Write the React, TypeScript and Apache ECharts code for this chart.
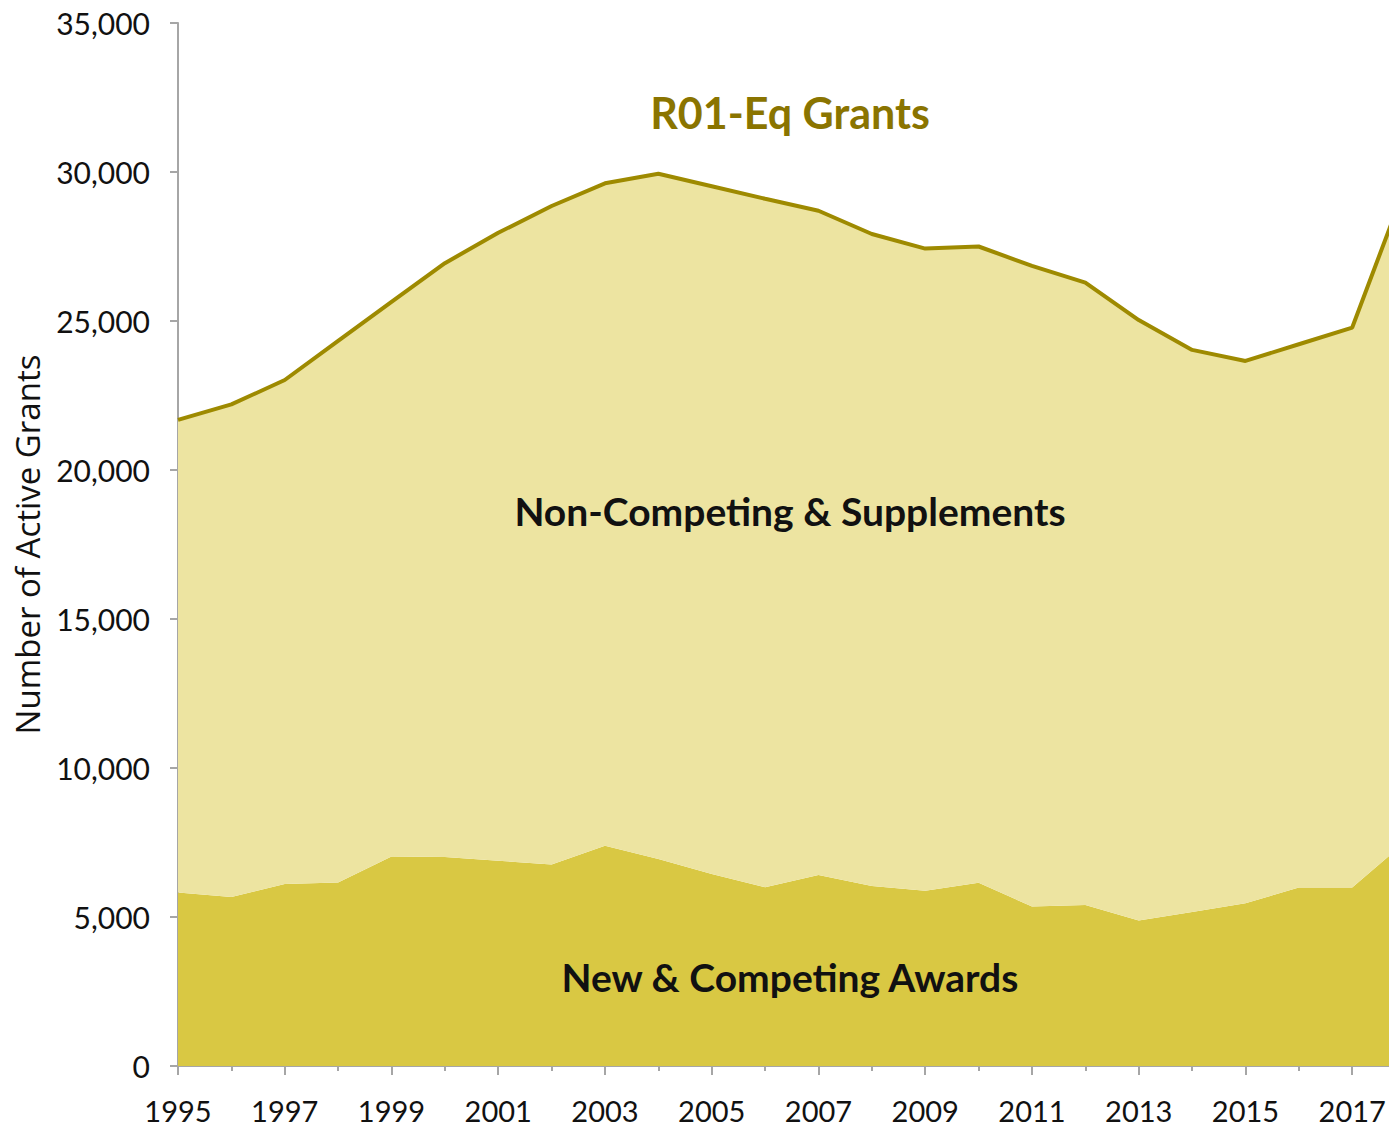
import React, { useEffect, useRef } from "react";
import * as echarts from "echarts";

const years = ["1995","1996","1997","1998","1999","2000","2001","2002","2003","2004","2005","2006","2007","2008","2009","2010","2011","2012","2013","2014","2015","2016","2017","2018"];
const totalGrants = [21680, 22200, 23020, 24330, 25640, 26940, 27960, 28860, 29620, 29940, 29520, 29100, 28700, 27920, 27430, 27500, 26850, 26290, 25030, 24030, 23660, 24220, 24780, 29540];
const newCompeting = [5820, 5670, 6110, 6160, 7030, 7010, 6890, 6760, 7390, 6950, 6440, 6000, 6410, 6040, 5880, 6150, 5350, 5400, 4880, 5170, 5460, 5990, 5990, 7530];
const nonCompeting = totalGrants.map((t, i) => t - newCompeting[i]);

export default function App() {
  const ref = useRef<HTMLDivElement>(null);
  useEffect(() => {
    if (!ref.current) return;
    const chart = echarts.init(ref.current, null, { renderer: "svg" });
    const axisColor = "#A6A6A6";
    chart.setOption({
      animation: false,
      backgroundColor: "#FFFFFF",
      grid: { left: 178, top: 23, bottom: 61, right: 14.4, containLabel: false, outerBoundsMode: "none" },
      xAxis: [
        {
          type: "category",
          data: years,
          boundaryGap: false,
          position: "bottom",
          axisLine: { show: true, lineStyle: { color: axisColor, width: 2 } },
          axisTick: { show: true, interval: 1, length: 9, lineStyle: { color: axisColor, width: 2 } },
          axisLabel: {
            interval: 1,
            margin: 29,
            fontFamily: "Lato",
            fontSize: 29,
            lineHeight: 30,
            color: "#111111",
          },
          splitLine: { show: false },
        },
        {
          type: "category",
          data: years,
          boundaryGap: false,
          position: "bottom",
          offset: 0,
          axisLine: { show: false },
          axisTick: { show: true, interval: 0, length: 5, lineStyle: { color: axisColor, width: 2 } },
          axisLabel: { show: false },
          splitLine: { show: false },
        },
      ],
      yAxis: {
        type: "value",
        min: 0,
        max: 35000,
        interval: 5000,
        name: "Number of Active Grants",
        nameLocation: "middle",
        nameRotate: 90,
        nameGap: 134,
        nameTextStyle: { fontFamily: "Open Sans", fontSize: 33, color: "#111111" },
        axisLine: { show: true, lineStyle: { color: axisColor, width: 2 } },
        axisTick: { show: true, inside: false, length: 8, lineStyle: { color: axisColor, width: 2 } },
        axisLabel: {
          margin: 28,
          fontFamily: "Lato",
          fontSize: 30,
          color: "#111111",
          formatter: (v: number) => v.toLocaleString("en-US"),
        },
        splitLine: { show: false },
      },
      series: [
        {
          name: "New & Competing Awards",
          type: "line",
          stack: "total",
          data: newCompeting,
          symbol: "none",
          lineStyle: { width: 0 },
          areaStyle: { color: "#D9C843", opacity: 1 },
          z: 2,
        },
        {
          name: "Non-Competing & Supplements",
          type: "line",
          stack: "total",
          data: nonCompeting,
          symbol: "none",
          lineStyle: { width: 4, color: "#9E8A00" },
          itemStyle: { color: "#9E8A00" },
          areaStyle: { color: "#EDE4A1", opacity: 1 },
          z: 3,
        },
      ],
      graphic: [
        {
          type: "text",
          x: 790,
          y: 112,
          style: {
            text: "R01-Eq Grants",
            fontFamily: "Lato",
            fontWeight: "bold",
            fontSize: 43,
            fill: "#8A7400",
            textAlign: "center",
            textVerticalAlign: "middle",
          },
          z: 10,
        },
        {
          type: "text",
          x: 790,
          y: 511,
          style: {
            text: "Non-Competing & Supplements",
            fontFamily: "Lato",
            fontWeight: "bold",
            fontSize: 39,
            fill: "#111111",
            textAlign: "center",
            textVerticalAlign: "middle",
          },
          z: 10,
        },
        {
          type: "text",
          x: 790,
          y: 977,
          style: {
            text: "New & Competing Awards",
            fontFamily: "Lato",
            fontWeight: "bold",
            fontSize: 39,
            fill: "#111111",
            textAlign: "center",
            textVerticalAlign: "middle",
          },
          z: 10,
        },
      ],
    });
    return () => chart.dispose();
  }, []);
  return (
    <div style={{ position: "absolute", left: 0, top: 0, width: 1389, height: 1127, overflow: "hidden" }}>
      <div ref={ref} style={{ width: 1420, height: 1127 }} />
    </div>
  );
}
